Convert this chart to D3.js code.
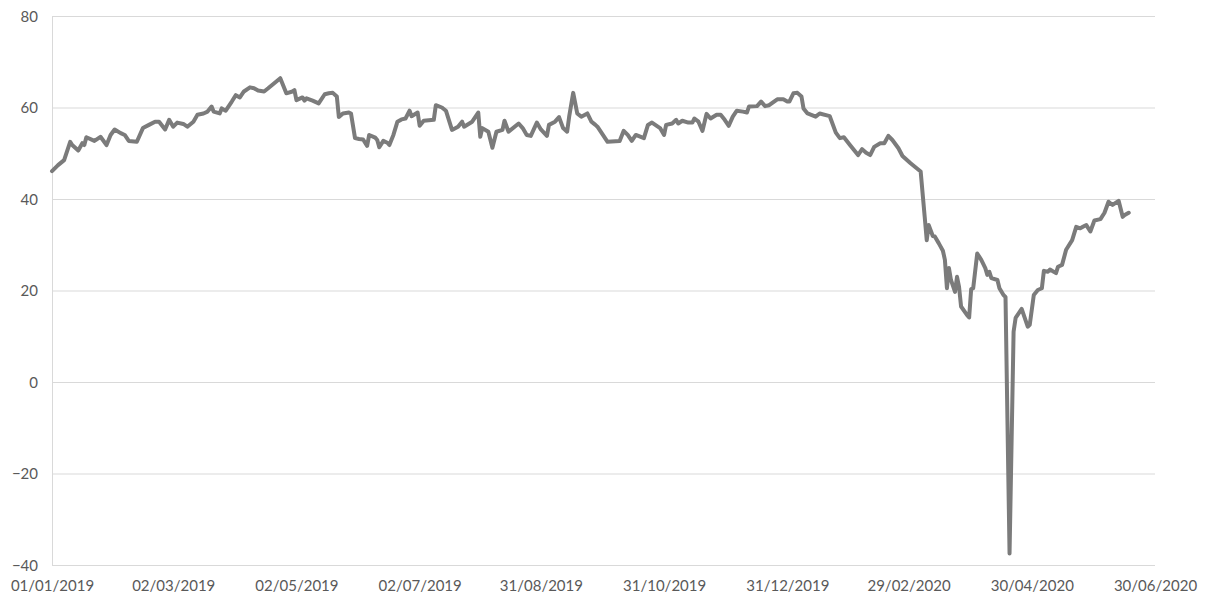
<!DOCTYPE html>
<html>
<head>
<meta charset="utf-8">
<script src="https://cdn.jsdelivr.net/npm/d3@7"></script>
<style>
  body { margin: 0; background: #fff; }
  #app text { font-family: Lato, "Open Sans", sans-serif; font-size: 15px; fill: #595959; }
</style>
</head>
<body>
<div id="app"></div>
<script>
/* globals d3 */
// DATA
const dates = [
  '2019-01-01', '2019-01-04', '2019-01-07', '2019-01-10', '2019-01-11', '2019-01-14', '2019-01-16', '2019-01-17',
  '2019-01-18', '2019-01-22', '2019-01-25', '2019-01-28', '2019-01-30', '2019-02-01', '2019-02-04', '2019-02-06',
  '2019-02-08', '2019-02-12', '2019-02-15', '2019-02-18', '2019-02-21', '2019-02-23', '2019-02-26', '2019-02-28',
  '2019-03-02', '2019-03-04', '2019-03-07', '2019-03-09', '2019-03-12', '2019-03-14', '2019-03-17', '2019-03-19',
  '2019-03-21', '2019-03-22', '2019-03-25', '2019-03-26', '2019-03-28', '2019-03-31', '2019-04-02', '2019-04-04',
  '2019-04-06', '2019-04-09', '2019-04-11', '2019-04-13', '2019-04-16', '2019-04-18', '2019-04-21', '2019-04-24',
  '2019-04-25', '2019-04-27', '2019-04-30', '2019-05-01', '2019-05-02', '2019-05-05', '2019-05-06', '2019-05-07',
  '2019-05-10', '2019-05-13', '2019-05-16', '2019-05-18', '2019-05-20', '2019-05-22', '2019-05-23', '2019-05-25',
  '2019-05-28', '2019-05-29', '2019-05-31', '2019-06-02', '2019-06-04', '2019-06-06', '2019-06-07', '2019-06-10',
  '2019-06-11', '2019-06-12', '2019-06-14', '2019-06-16', '2019-06-17', '2019-06-19', '2019-06-21', '2019-06-23',
  '2019-06-25', '2019-06-27', '2019-06-28', '2019-07-01', '2019-07-02', '2019-07-04', '2019-07-09', '2019-07-10',
  '2019-07-13', '2019-07-15', '2019-07-18', '2019-07-21', '2019-07-23', '2019-07-24', '2019-07-28', '2019-07-31',
  '2019-08-01', '2019-08-02', '2019-08-05', '2019-08-07', '2019-08-09', '2019-08-12', '2019-08-13', '2019-08-15',
  '2019-08-20', '2019-08-22', '2019-08-24', '2019-08-26', '2019-08-29', '2019-08-31', '2019-09-03', '2019-09-04',
  '2019-09-07', '2019-09-09', '2019-09-11', '2019-09-13', '2019-09-14', '2019-09-16', '2019-09-18', '2019-09-20',
  '2019-09-23', '2019-09-25', '2019-09-27', '2019-09-28', '2019-10-03', '2019-10-09', '2019-10-11', '2019-10-13',
  '2019-10-15', '2019-10-17', '2019-10-21', '2019-10-23', '2019-10-25', '2019-10-29', '2019-10-31', '2019-11-01',
  '2019-11-04', '2019-11-06', '2019-11-07', '2019-11-09', '2019-11-12', '2019-11-14', '2019-11-15', '2019-11-17',
  '2019-11-19', '2019-11-21', '2019-11-23', '2019-11-26', '2019-11-28', '2019-11-30', '2019-12-02', '2019-12-04',
  '2019-12-06', '2019-12-09', '2019-12-11', '2019-12-12', '2019-12-16', '2019-12-18', '2019-12-20', '2019-12-22',
  '2019-12-26', '2019-12-29', '2019-12-31', '2020-01-01', '2020-01-03', '2020-01-05', '2020-01-07', '2020-01-08',
  '2020-01-10', '2020-01-14', '2020-01-16', '2020-01-21', '2020-01-24', '2020-01-26', '2020-01-28', '2020-01-31',
  '2020-02-04', '2020-02-06', '2020-02-08', '2020-02-10', '2020-02-12', '2020-02-15', '2020-02-17', '2020-02-19',
  '2020-02-21', '2020-02-24', '2020-02-26', '2020-03-01', '2020-03-06', '2020-03-08', '2020-03-09', '2020-03-10',
  '2020-03-12', '2020-03-13', '2020-03-15', '2020-03-17', '2020-03-18', '2020-03-19', '2020-03-20', '2020-03-21',
  '2020-03-23', '2020-03-24', '2020-03-25', '2020-03-26', '2020-03-29', '2020-03-30', '2020-03-31', '2020-04-01',
  '2020-04-03', '2020-04-05', '2020-04-07', '2020-04-08', '2020-04-09', '2020-04-10', '2020-04-13', '2020-04-14',
  '2020-04-16', '2020-04-17', '2020-04-19', '2020-04-21', '2020-04-22', '2020-04-25', '2020-04-28', '2020-04-29',
  '2020-05-01', '2020-05-03', '2020-05-05', '2020-05-06', '2020-05-08', '2020-05-09', '2020-05-12', '2020-05-13',
  '2020-05-15', '2020-05-17', '2020-05-20', '2020-05-22', '2020-05-24', '2020-05-26', '2020-05-27', '2020-05-29',
  '2020-05-31', '2020-06-03', '2020-06-05', '2020-06-07', '2020-06-09', '2020-06-12', '2020-06-14', '2020-06-15',
  '2020-06-17'
];

const prices = [
  46.1, 47.4, 48.5, 52.5, 51.8, 50.6, 52.2, 51.8,
  53.5, 52.7, 53.6, 51.8, 54.0, 55.2, 54.4, 54.0,
  52.7, 52.5, 55.5, 56.2, 56.9, 56.9, 55.2, 57.3,
  55.8, 56.7, 56.4, 55.8, 56.9, 58.4, 58.7, 59.1,
  60.2, 59.1, 58.7, 59.8, 59.3, 61.3, 62.7, 62.2,
  63.5, 64.4, 64.2, 63.7, 63.5, 64.2, 65.3, 66.4,
  65.3, 63.1, 63.5, 63.8, 61.6, 62.2, 61.5, 62.0,
  61.5, 60.9, 62.9, 63.1, 63.2, 62.4, 57.9, 58.7,
  58.9, 58.7, 53.3, 53.1, 53.0, 51.6, 54.0, 53.4,
  52.9, 51.3, 52.7, 52.3, 51.8, 54.0, 56.9, 57.4,
  57.6, 59.3, 58.1, 58.9, 56.0, 57.1, 57.3, 60.5,
  60.0, 59.3, 55.1, 55.8, 56.9, 55.8, 56.9, 58.9,
  53.6, 55.5, 54.7, 51.2, 54.7, 55.1, 57.1, 54.7,
  56.5, 55.5, 54.0, 53.8, 56.7, 55.2, 53.8, 56.2,
  56.9, 57.9, 55.5, 54.7, 58.0, 63.2, 58.7, 58.0,
  58.7, 56.9, 56.2, 55.8, 52.5, 52.7, 54.9, 54.0,
  52.7, 54.0, 53.3, 56.2, 56.7, 55.5, 54.0, 56.2,
  56.5, 57.3, 56.5, 57.1, 56.7, 56.7, 57.6, 56.9,
  54.9, 58.6, 57.6, 58.4, 58.4, 57.3, 56.0, 58.0,
  59.3, 59.1, 58.9, 60.2, 60.3, 61.3, 60.3, 60.5,
  61.8, 61.8, 61.3, 61.3, 63.1, 63.2, 62.4, 59.8,
  58.7, 58.0, 58.7, 58.1, 54.5, 53.3, 53.5, 51.8,
  49.6, 50.9, 50.1, 49.6, 51.4, 52.2, 52.2, 53.8,
  52.9, 51.1, 49.4, 47.8, 46.0, 36.1, 31.0, 34.3,
  31.9, 31.8, 30.3, 28.7, 26.7, 20.5, 24.9, 22.3,
  19.7, 23.0, 20.8, 16.5, 14.6, 14.1, 20.3, 20.5,
  28.1, 26.7, 24.9, 23.4, 24.1, 22.7, 22.3, 20.5,
  19.0, 18.6, -37.5, 11.0, 14.0, 16.0, 12.1, 12.5,
  19.0, 20.1, 20.5, 24.3, 24.1, 24.6, 23.8, 25.2,
  25.6, 28.9, 31.0, 33.9, 33.6, 34.1, 34.3, 32.9,
  35.3, 35.6, 37.0, 39.4, 38.7, 39.6, 36.1, 36.5,
  37.0
];

const xTicks = [
  '2019-01-01', '2019-03-02', '2019-05-02', '2019-07-02', '2019-08-31',
  '2019-10-31', '2019-12-31', '2020-02-29', '2020-04-30', '2020-06-30'
];
const yTicks = [-40, -20, 0, 20, 40, 60, 80];

// LAYOUT
const WIDTH = 1209;
const HEIGHT = 604;
const margin = { top: 16, right: 54, bottom: 39, left: 52 };

const parse = d3.utcParse('%Y-%m-%d');
const series = dates.map((d, i) => ({ date: parse(d), value: prices[i] }));

const x = d3.scaleUtc()
  .domain([parse('2019-01-01'), parse('2020-06-30')])
  .range([margin.left, WIDTH - margin.right]);

const y = d3.scaleLinear()
  .domain([-40, 80])
  .range([HEIGHT - margin.bottom, margin.top]);

const $svg = d3.select('#app')
  .append('svg')
  .attr('width', WIDTH)
  .attr('height', HEIGHT);

// gridlines + y labels
const yAxis = d3.axisLeft(y)
  .tickValues(yTicks)
  .tickSize(-(WIDTH - margin.left - margin.right))
  .tickPadding(14)
  .tickFormat(d3.format('d'));

$svg.append('g')
  .attr('transform', `translate(${margin.left},0)`)
  .call(yAxis)
  .call(g => g.select('.domain').attr('stroke', '#d9d9d9'))
  .call(g => g.selectAll('.tick line').attr('stroke', '#d9d9d9'))
  .call(g => g.selectAll('.tick text').attr('dy', '0.35em'));

// x labels
const xAxis = d3.axisBottom(x)
  .tickValues(xTicks.map(parse))
  .tickSize(0)
  .tickPadding(15)
  .tickFormat(d3.utcFormat('%d/%m/%Y'));

$svg.append('g')
  .attr('transform', `translate(0,${HEIGHT - margin.bottom})`)
  .call(xAxis)
  .call(g => g.select('.domain').remove());

$svg.selectAll('.tick text')
  .style('font-family', 'Lato, "Open Sans", sans-serif')
  .style('font-size', '15px')
  .attr('fill', '#595959');

// price line
const line = d3.line()
  .x(d => x(d.date))
  .y(d => y(d.value));

$svg.append('path')
  .datum(series)
  .attr('fill', 'none')
  .attr('stroke', '#7b7b7b')
  .attr('stroke-width', 4)
  .attr('stroke-linejoin', 'round')
  .attr('stroke-linecap', 'round')
  .attr('d', line);
</script>
</body>
</html>
